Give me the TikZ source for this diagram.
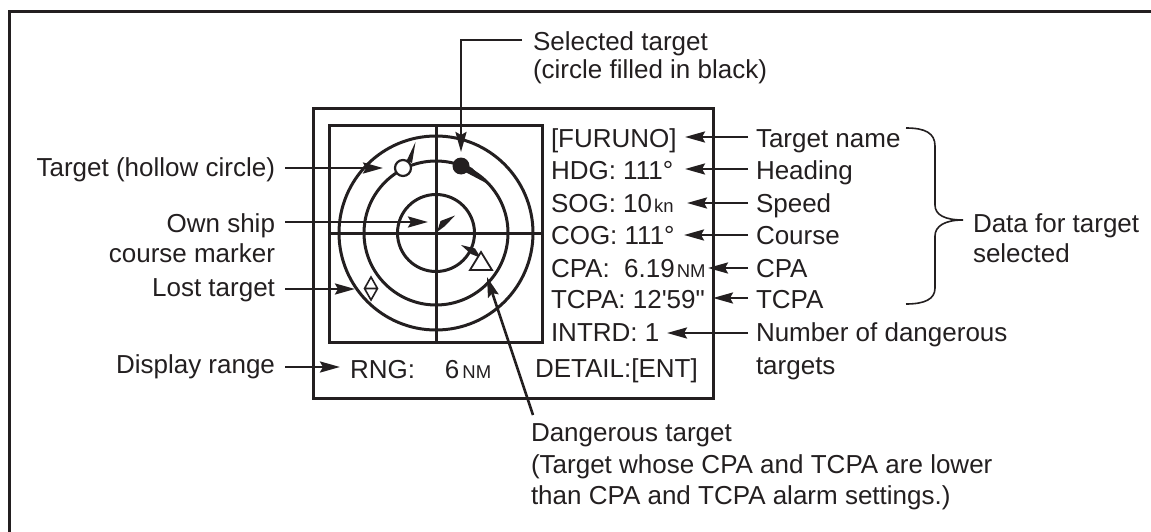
\documentclass[tikz,border=0pt]{standalone}
\usepackage{fontspec}
\setmainfont{Liberation Sans}
\usetikzlibrary{arrows.meta}
\definecolor{ink}{HTML}{231F20}
\newcommand\unitsm[1]{{\fontsize{18.5}{20}\selectfont #1}}
\begin{document}
\begin{tikzpicture}[x=1pt,y=-1pt,
  lbl/.style={inner sep=0pt, outer sep=0pt, font=\fontsize{26}{30}\selectfont, text=ink},
  arr/.style={draw=ink, line width=2.6pt, -{Stealth[length=20pt,width=11pt,inset=3pt]}},
  frame/.style={draw=ink, line width=3pt},
  ring/.style={draw=ink, line width=3pt},
  ]
\useasboundingbox (0,0) rectangle (1151,532);
% outer figure frame (cropped)
\draw[draw=ink, line width=3pt] (9,545) -- (9,12) -- (1165,12);

% display
\draw[frame] (313,109) rectangle (713,398);
\draw[frame] (329,126) rectangle (542,342);
\coordinate (c) at (436,233);
\draw[ring] (329,233) -- (542,233);
\draw[ring] (436,126) -- (436,342);
\draw[ring] (c) circle[radius=38.5];
\draw[ring] (c) circle[radius=72];
\draw[ring] (c) circle[radius=97];

% hollow target with vector
\fill[ink] (406.5,161) -- (412,163) -- (415.5,142) -- cycle;
\node[circle, draw=ink, fill=white, line width=2.2pt, minimum size=16pt, inner sep=0pt] (hollow) at (403,168) {};
% selected target
\fill[ink] (462.5,162.5) -- (472,168) -- (488,184) -- (470,174.5) -- (459,169) -- cycle;
\node[circle, fill=ink, minimum size=17pt, inner sep=0pt] (seltgt) at (461,166) {};
% own ship course marker
\fill[ink] (437,232) -- (440.5,221) -- (455,215.5) -- (445,226) -- cycle;
% dangerous target
\fill[ink] (461,245) -- (475,248.5) -- (481,258) -- (471,254) -- cycle;
\draw[ink, line width=1.8pt, fill=white, line join=miter] (481,252) -- (492,270) -- (470,270) -- cycle;
% lost target
\draw[ink, line width=1.6pt] (371,277) -- (377.5,288.5) -- (371,300) -- (364.5,288.5) -- cycle
  (364.5,288.5) -- (377.5,288.5);

% tips
\coordinate (tHollow) at (383,168);
\coordinate (tOwn) at (428,222);
\coordinate (tLost) at (355,289);
\coordinate (tRange) at (340,367);
\coordinate (tSel) at (461,152);
\coordinate (selcorner) at (461,40);
\coordinate (tDang) at (487,277);
\coordinate (dstart) at (533,415);

% left labels
\node[lbl, anchor=base east] (lhollow) at (275,176) {Target (hollow circle)};
\node[lbl, anchor=base east] (lown) at (275,232) {Own ship};
\node[lbl, anchor=base east] (lown2) at (275,262) {course marker};
\node[lbl, anchor=base east] (llost) at (275,296) {Lost target};
\node[lbl, anchor=base east] (lrange) at (275,373) {Display range};
\draw[arr] ([xshift=10pt]lhollow.east |- tHollow) -- (tHollow);
\draw[arr] ([xshift=10pt]lown.east |- tOwn) -- (tOwn);
\draw[arr] ([xshift=10pt]llost.east |- tLost) -- (tLost);
\draw[arr] ([xshift=10pt]lrange.east |- tRange) -- (tRange);

% selected target label
\node[lbl, anchor=base west] (lsel) at (533,51) {Selected target};
\node[lbl, anchor=base west] (lsel2) at (533,79) {(circle filled in black)};
\draw[arr] ([xshift=-11pt]lsel.west |- selcorner) -- (selcorner) -- (tSel);

% data in the display
\node[lbl, anchor=base west] (d1) at (551,148) {[FURUNO]};
\node[lbl, anchor=base west] (d2) at (551,179) {HDG: 111°};
\node[lbl, anchor=base west] (d3) at (551,212) {SOG: 10\kern2pt\unitsm{kn}};
\node[lbl, anchor=base west] (d4) at (551,244) {COG: 111°};
\node[lbl, anchor=base west] (d5) at (551,277) {CPA:\ \ 6.19\kern2pt\unitsm{NM}};
\node[lbl, anchor=base west] (d6) at (551,308) {TCPA: 12\textquotesingle59\textquotedbl};
\node[lbl, anchor=base west] (d7) at (551,341) {INTRD: 1};
\node[lbl, anchor=base west] (rng) at (350,378) {RNG:\hspace{30pt}6\kern3pt\unitsm{NM}};
\node[lbl, anchor=base west] (det) at (535,377) {DETAIL:[ENT]};

% right labels
\node[lbl, anchor=base west] (r1) at (756,148) {Target name};
\node[lbl, anchor=base west] (r2) at (756,179) {Heading};
\node[lbl, anchor=base west] (r3) at (756,212) {Speed};
\node[lbl, anchor=base west] (r4) at (756,244) {Course};
\node[lbl, anchor=base west] (r5) at (756,277) {CPA};
\node[lbl, anchor=base west] (r6) at (756,308) {TCPA};
\node[lbl, anchor=base west] (r7) at (756,341) {Number of dangerous};
\node[lbl, anchor=base west] (r7b) at (756,374) {targets};

\coordinate (t1) at (685,137);
\coordinate (t2) at (685,169);
\coordinate (t3) at (687,203);
\coordinate (t4) at (684,235);
\coordinate (t5) at (708,268);
\coordinate (t6) at (713,298);
\coordinate (t7) at (667,333);
\draw[arr] ([xshift=-8pt]r1.west |- t1) -- (t1);
\draw[arr] ([xshift=-8pt]r2.west |- t2) -- (t2);
\draw[arr] ([xshift=-8pt]r3.west |- t3) -- (t3);
\draw[arr] ([xshift=-8pt]r4.west |- t4) -- (t4);
\draw[arr] ([xshift=-8pt]r5.west |- t5) -- (t5);
\draw[arr] ([xshift=-8pt]r6.west |- t6) -- (t6);
\draw[arr] ([xshift=-8pt]r7.west |- t7) -- (t7);

% brace
\coordinate (btip) at (963,220);
\draw[ink, line width=1.6pt] (906,128) .. controls (925,128) and (935,133) .. (935,146)
  -- (935,205) .. controls (935,215) and (945,220) .. (btip)
  .. controls (945,220) and (935,226) .. (935,236)
  -- (935,288) .. controls (935,299) and (925,304) .. (906,304);
\node[lbl, anchor=base west] (ldata) at (973,232) {Data for target};
\node[lbl, anchor=base west] (ldata2) at (973,262) {selected};

% dangerous target label
\node[lbl, anchor=base west] (ldang) at (531,441) {Dangerous target};
\node[lbl, anchor=base west] (ldang2) at (531,473) {(Target whose CPA and TCPA are lower};
\node[lbl, anchor=base west] (ldang3) at (531,504) {than CPA and TCPA alarm settings.)};
\draw[arr] (dstart) -- (tDang);
\end{tikzpicture}
\end{document}
